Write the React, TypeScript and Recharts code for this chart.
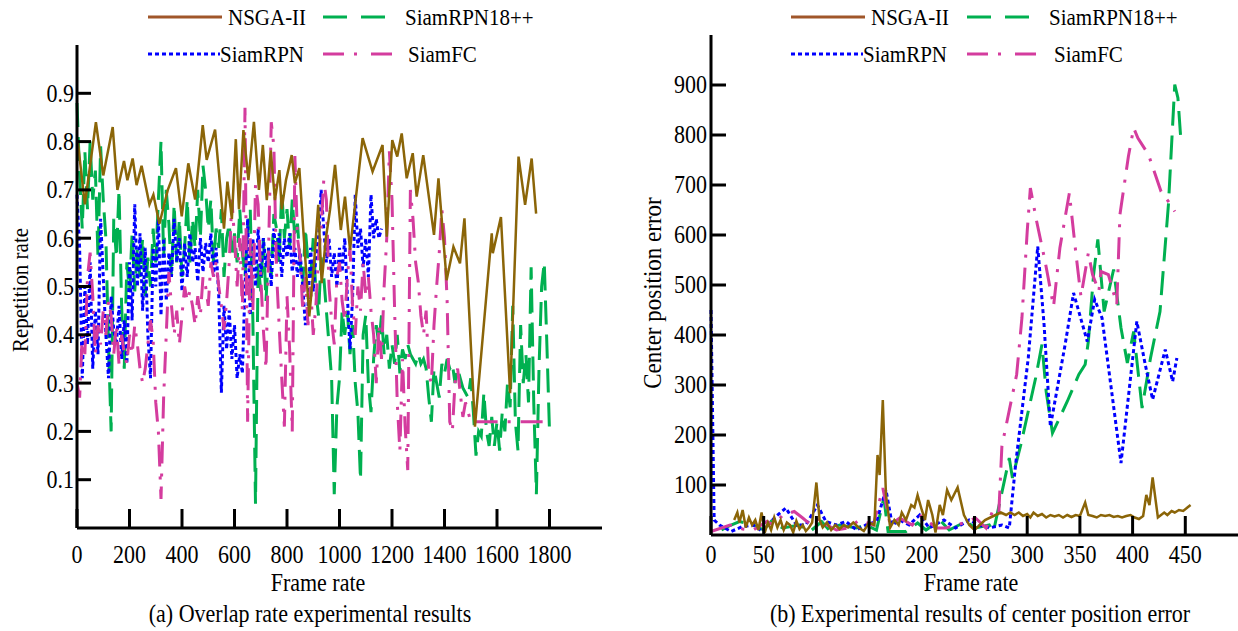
import React from "react";
import { LineChart, Line, XAxis, YAxis } from "recharts";

const FONT = '"Liberation Serif", "Times New Roman", serif';

const C_NSGA = "#8B6508";
const C_NSGA_LEG = "#A0562A";
const C_GREEN = "#00B050";
const C_BLUE = "#0000FF";
const C_PINK = "#D43C9E";

const DASH_GREEN = "24 10";
const DASH_BLUE = "4 3";
const DASH_PINK = "22 10 3 10";

// (a) overlap rate, sampled every 10 frames
const greenLeft = [
  0.88, 0.73, 0.62, 0.78, 0.66, 0.8, 0.68, 0.74, 0.56, 0.79,
  0.68, 0.6, 0.38, 0.2, 0.64, 0.56, 0.7, 0.46, 0.33, 0.55,
  0.49, 0.61, 0.49, 0.58, 0.52, 0.6, 0.48, 0.56, 0.5, 0.62,
  0.55, 0.68, 0.8, 0.56, 0.7, 0.63, 0.52, 0.67, 0.55, 0.64,
  0.52, 0.58, 0.68, 0.55, 0.64, 0.58, 0.7, 0.6, 0.75, 0.7,
  0.62, 0.68, 0.55, 0.62, 0.58, 0.66, 0.52, 0.6, 0.63, 0.56,
  0.61, 0.55, 0.66, 0.57, 0.52, 0.62, 0.66, 0.43, 0.05, 0.55,
  0.49, 0.6, 0.47, 0.58, 0.52, 0.65, 0.62, 0.55, 0.7, 0.6,
  0.66, 0.58, 0.68, 0.6, 0.63, 0.55, 0.5, 0.62, 0.55, 0.52,
  0.6, 0.49, 0.44, 0.56, 0.52, 0.45, 0.38, 0.31, 0.07, 0.25,
  0.31, 0.45, 0.4, 0.45, 0.36, 0.42, 0.3, 0.24, 0.1, 0.4,
  0.44, 0.3, 0.24, 0.35, 0.42, 0.38, 0.44, 0.36, 0.4, 0.33,
  0.38, 0.34, 0.4, 0.32, 0.37, 0.35, 0.38, 0.36, 0.35, 0.34,
  0.36, 0.34, 0.35, 0.33, 0.27, 0.22, 0.33, 0.3, 0.27, 0.34,
  0.32, 0.35, 0.33, 0.34, 0.3, 0.33, 0.31, 0.29, 0.28, 0.27,
  0.31, 0.24, 0.15, 0.2, 0.19, 0.28, 0.2, 0.17, 0.23, 0.17,
  0.22, 0.16, 0.24, 0.2, 0.3, 0.25, 0.46, 0.22, 0.16, 0.42,
  0.3, 0.36, 0.26, 0.54, 0.26, 0.07, 0.33, 0.5, 0.55, 0.38,
  0.2,
];

const pinkLeft = [
  0.3, 0.27, 0.4, 0.36, 0.52, 0.57, 0.48, 0.36, 0.42, 0.38,
  0.45, 0.4, 0.47, 0.44, 0.36, 0.42, 0.34, 0.4, 0.36, 0.34,
  0.4, 0.36, 0.42, 0.38, 0.33, 0.3, 0.33, 0.38, 0.43, 0.39,
  0.26, 0.2, 0.06, 0.27, 0.4, 0.53, 0.46, 0.4, 0.45, 0.38,
  0.44, 0.5, 0.47, 0.49, 0.46, 0.42, 0.48, 0.44, 0.52, 0.5,
  0.46, 0.55, 0.52, 0.55, 0.5, 0.46, 0.41, 0.47, 0.55, 0.68,
  0.6, 0.5, 0.6, 0.45, 0.87, 0.22, 0.6, 0.45, 0.71, 0.67,
  0.52, 0.41, 0.33, 0.58, 0.84, 0.79, 0.53, 0.42, 0.31, 0.21,
  0.48, 0.37, 0.2, 0.77, 0.6, 0.56, 0.45, 0.52, 0.42, 0.5,
  0.4, 0.46, 0.56, 0.62, 0.72, 0.68, 0.5, 0.43, 0.38, 0.52,
  0.55, 0.47, 0.43, 0.52, 0.58, 0.46, 0.4, 0.5, 0.45, 0.55,
  0.48, 0.52, 0.45, 0.4, 0.3, 0.42, 0.35, 0.5, 0.6, 0.78,
  0.68, 0.45, 0.26, 0.16, 0.35, 0.21, 0.12, 0.7, 0.64, 0.55,
  0.51, 0.44, 0.4, 0.45, 0.32, 0.3, 0.42, 0.5, 0.57, 0.66,
  0.6, 0.47, 0.22, 0.2, 0.3, 0.33, 0.28, 0.23, 0.26, 0.24,
  0.22, 0.22, 0.22, 0.22, 0.22, 0.22, 0.22, 0.22, 0.22, 0.22,
  0.22, 0.22, 0.22, 0.22, 0.22, 0.22, 0.22, 0.22, 0.22, 0.22,
  0.22, 0.22, 0.22, 0.22, 0.22, 0.22, 0.22, 0.22, 0.22, 0.22,
  0.22,
];

const blueLeft = [
  0.69, 0.58, 0.31, 0.5, 0.38, 0.55, 0.33, 0.45, 0.36, 0.64,
  0.52, 0.4, 0.31, 0.48, 0.41, 0.38, 0.46, 0.35, 0.43, 0.34,
  0.55, 0.43, 0.67, 0.5, 0.61, 0.45, 0.58, 0.4, 0.31, 0.58,
  0.5, 0.64, 0.44, 0.6, 0.47, 0.57, 0.52, 0.64, 0.55, 0.6,
  0.49, 0.59, 0.52, 0.61, 0.55, 0.58, 0.51, 0.6, 0.53, 0.59,
  0.55, 0.61, 0.52, 0.58, 0.48, 0.28, 0.46, 0.37, 0.45, 0.35,
  0.42, 0.31, 0.36, 0.32, 0.5, 0.64, 0.44, 0.6, 0.5, 0.62,
  0.52, 0.6, 0.54, 0.58, 0.5, 0.62, 0.55, 0.61, 0.52, 0.6,
  0.56, 0.61, 0.53, 0.58, 0.52, 0.57, 0.5, 0.42, 0.46, 0.58,
  0.49, 0.56, 0.6, 0.7, 0.62, 0.55, 0.6, 0.52, 0.57, 0.5,
  0.58, 0.53, 0.6, 0.48, 0.37, 0.48, 0.69, 0.58, 0.62, 0.54,
  0.6, 0.52, 0.69, 0.6, 0.64, 0.6, 0.62,
];

// [frame, rate]
const nsgaLeft = [
  [3, 0.8], [30, 0.67], [72, 0.84], [100, 0.73], [136, 0.83], [154, 0.7],
  [179, 0.76], [192, 0.72], [212, 0.765], [227, 0.71], [246, 0.75], [276, 0.67],
  [291, 0.69], [314, 0.63], [346, 0.7], [377, 0.745], [399, 0.645], [424, 0.755],
  [450, 0.68], [479, 0.834], [494, 0.762], [526, 0.825], [560, 0.62], [573, 0.717],
  [590, 0.64], [605, 0.805], [617, 0.66], [634, 0.824], [653, 0.72], [674, 0.841],
  [693, 0.7], [708, 0.793], [723, 0.679], [738, 0.782], [754, 0.679], [771, 0.741],
  [780, 0.66], [796, 0.72], [818, 0.772], [830, 0.714], [847, 0.745], [862, 0.617],
  [885, 0.438], [903, 0.548], [919, 0.669], [932, 0.507], [948, 0.6], [964, 0.659],
  [983, 0.752], [1005, 0.617], [1021, 0.686], [1040, 0.576], [1088, 0.807], [1126, 0.738],
  [1164, 0.793], [1180, 0.603], [1201, 0.803], [1220, 0.769], [1237, 0.817], [1256, 0.724],
  [1279, 0.776], [1294, 0.686], [1319, 0.772], [1360, 0.607], [1377, 0.724], [1408, 0.513],
  [1434, 0.582], [1459, 0.548], [1476, 0.641], [1516, 0.21], [1580, 0.61], [1584, 0.569],
  [1615, 0.644], [1650, 0.279], [1682, 0.769], [1707, 0.669], [1732, 0.765], [1749, 0.651],
];

// (b) center position error, [frame, error]
const nsgaRight = [
  [22, 30], [25, 45], [27, 25], [30, 50], [33, 15], [36, 35], [39, 20], [42, 30],
  [45, 10], [48, 45], [51, 5], [54, 25], [57, 10], [60, 35], [63, 15], [66, 30],
  [69, 10], [72, 25], [75, 20], [78, 5], [81, 28], [84, 12], [87, 20], [90, 8],
  [93, 15], [96, 25], [100, 105], [103, 30], [106, 15], [110, 25], [114, 10], [118, 20],
  [122, 12], [126, 20], [130, 15], [135, 25], [140, 15], [145, 8], [150, 25], [155, 20],
  [158, 160], [160, 120], [163, 270], [166, 80], [170, 15], [174, 30], [178, 20], [181, 45],
  [185, 30], [190, 60], [193, 55], [196, 80], [200, 50], [203, 30], [206, 70], [210, 40],
  [213, 5], [217, 60], [220, 40], [224, 90], [228, 70], [234, 95], [240, 40], [245, 20],
  [250, 10], [255, 20], [260, 30], [265, 35], [270, 40], [275, 45], [280, 40], [284, 45],
  [288, 40], [292, 45], [296, 38], [300, 42], [303, 35], [306, 45], [310, 38], [314, 42],
  [318, 35], [322, 40], [326, 37], [330, 40], [334, 35], [338, 40], [342, 36], [346, 40],
  [350, 38], [355, 65], [358, 40], [362, 38], [366, 35], [370, 40], [374, 38], [378, 40],
  [382, 36], [386, 38], [390, 35], [394, 38], [398, 40], [402, 35], [406, 32], [410, 38],
  [413, 80], [416, 60], [419, 115], [424, 35], [427, 40], [430, 45], [433, 40], [437, 48],
  [440, 45], [444, 50], [448, 48], [452, 55], [455, 60],
];

const blueRight = [
  [0, 450], [3, 30], [8, 20], [19, 7], [30, 17], [40, 20], [49, 7], [60, 34],
  [71, 54], [81, 20], [90, 20], [101, 60], [109, 27], [119, 20], [128, 27], [138, 10],
  [147, 20], [157, 27], [166, 90], [172, 20], [179, 30], [188, 20], [198, 40], [207, 14],
  [221, 30], [232, 14], [245, 30], [254, 20], [264, 14], [276, 20], [283, 14], [289, 141],
  [301, 354], [310, 577], [316, 421], [322, 217], [336, 381], [344, 484], [357, 387], [364, 471],
  [371, 434], [389, 144], [398, 314], [404, 427], [412, 341], [419, 271], [431, 371], [438, 307],
  [442, 354],
];

const pinkRight = [
  [0, 7], [18, 20], [30, 12], [40, 10], [53, 27], [60, 20], [68, 40], [79, 47],
  [87, 34], [95, 20], [103, 34], [110, 20], [119, 10], [130, 14], [141, 30], [154, 20],
  [163, 94], [170, 20], [179, 34], [191, 20], [198, 40], [214, 14], [223, 14], [232, 20],
  [242, 25], [251, 34], [261, 14], [267, 47], [273, 41], [276, 178], [290, 321], [295, 434],
  [300, 607], [303, 694], [309, 627], [317, 547], [325, 457], [331, 574], [340, 684], [346, 567],
  [351, 477], [358, 564], [362, 521], [368, 487], [370, 527], [377, 521], [385, 461], [388, 641],
  [396, 757], [401, 814], [405, 794], [415, 761], [427, 687], [434, 667], [440, 647],
];

const greenRight = [
  [10, 10], [19, 20], [27, 27], [40, 20], [50, 10], [57, 27], [68, 14], [84, 20],
  [94, 7], [105, 27], [112, 10], [122, 20], [138, 14], [147, 20], [157, 10], [164, 74],
  [168, 7], [185, 7], [196, 24], [204, 10], [217, 30], [226, 10], [242, 27], [251, 14],
  [264, 20], [268, 7], [283, 154], [286, 114], [294, 181], [308, 314], [314, 381], [318, 287],
  [324, 204], [338, 267], [349, 321], [355, 341], [358, 387], [363, 521], [367, 591], [373, 447],
  [382, 531], [389, 414], [395, 344], [401, 407], [409, 254], [417, 354], [426, 447], [434, 661],
  [440, 901], [443, 874], [446, 784],
];

const leftFrameTicks = [0, 200, 400, 600, 800, 1000, 1200, 1400, 1600, 1800];
const leftRateTicks = [0.1, 0.2, 0.3, 0.4, 0.5, 0.6, 0.7, 0.8, 0.9];
const rightFrameTicks = [0, 50, 100, 150, 200, 250, 300, 350, 400, 450];
const rightErrorTicks = [100, 200, 300, 400, 500, 600, 700, 800, 900];

type Pt = { frame: number; v: number };
const onGrid = (vals: number[]): Pt[] => vals.map((v, i) => ({ frame: i * 10, v }));
const fromPairs = (p: number[][]): Pt[] => p.map(([frame, v]) => ({ frame, v }));

const axisLine = { stroke: "#000", strokeWidth: 3 };
const tickLine = { stroke: "#000", strokeWidth: 3 };

// the source figure's text is slightly stretched vertically
const STRETCH = 1.13;

function T(props: {
  x: number;
  y: number;
  size?: number;
  anchor?: "start" | "middle" | "end";
  rotate?: boolean;
  children: React.ReactNode;
}) {
  const { x, y, size = 22, anchor = "start", rotate, children } = props;
  const tr = rotate
    ? `translate(${x},${y}) rotate(-90) scale(1,${STRETCH})`
    : `translate(${x},${y}) scale(1,${STRETCH})`;
  return (
    <g transform={tr}>
      <text
        x={0}
        y={0}
        textAnchor={anchor}
        dominantBaseline="central"
        fontSize={size}
        fontFamily={FONT}
        fill="#000"
      >
        {children}
      </text>
    </g>
  );
}

const XTick = (p: any) => (
  <T x={p.x} y={p.y} anchor="middle" size={22}>
    {p.payload.value}
  </T>
);
const YTickRate = (p: any) => (
  <T x={p.x} y={p.y} anchor="end" size={22}>
    {Number(p.payload.value).toFixed(1)}
  </T>
);
const YTickErr = (p: any) => (
  <T x={p.x} y={p.y} anchor="end" size={22}>
    {p.payload.value}
  </T>
);

export default function App() {
  const lines = (set: { data: Pt[]; color: string; dash?: string; w: number }[]) =>
    set.map((s, i) => (
      <Line
        key={i}
        data={s.data}
        dataKey="v"
        type="linear"
        stroke={s.color}
        strokeWidth={s.w}
        strokeDasharray={s.dash}
        dot={false}
        activeDot={false}
        isAnimationActive={false}
      />
    ));

  const leftSeries = [
    { data: onGrid(greenLeft), color: C_GREEN, dash: DASH_GREEN, w: 3 },
    { data: onGrid(blueLeft), color: C_BLUE, dash: DASH_BLUE, w: 3 },
    { data: onGrid(pinkLeft), color: C_PINK, dash: DASH_PINK, w: 3 },
    { data: fromPairs(nsgaLeft), color: C_NSGA, w: 2.5 },
  ];
  const rightSeries = [
    { data: fromPairs(greenRight), color: C_GREEN, dash: DASH_GREEN, w: 3 },
    { data: fromPairs(blueRight), color: C_BLUE, dash: DASH_BLUE, w: 3 },
    { data: fromPairs(pinkRight), color: C_PINK, dash: DASH_PINK, w: 3 },
    { data: fromPairs(nsgaRight), color: C_NSGA, w: 2.5 },
  ];

  const legend = (x0: number, x1: number, t1: number, y1: number, y2: number) => (
    <g>
      <line x1={x0} x2={x0 + 74} y1={y1} y2={y1} stroke={C_NSGA_LEG} strokeWidth={3} />
      <T x={x0 + 80} y={y1} size={21}>NSGA-II</T>
      <line x1={x1} x2={x1 + 75} y1={y1} y2={y1} stroke={C_GREEN} strokeWidth={3} strokeDasharray="24 14" />
      <T x={x1 + 82} y={y1} size={21}>SiamRPN18++</T>
      <line x1={x0} x2={x0 + 72} y1={y2} y2={y2} stroke={C_BLUE} strokeWidth={3} strokeDasharray={DASH_BLUE} />
      <T x={x0 + 72} y={y2} size={21}>SiamRPN</T>
      <line x1={x1} x2={x1 + 70} y1={y2} y2={y2} stroke={C_PINK} strokeWidth={3} strokeDasharray="21 10 3 14" />
      <T x={t1} y={y2} size={21}>SiamFC</T>
    </g>
  );

  return (
    <div
      style={{
        position: "absolute",
        left: 0,
        top: 0,
        width: 1238,
        height: 631,
        background: "#fff",
        fontFamily: FONT,
        overflow: "hidden",
      }}
    >
      <div style={{ position: "absolute", left: 0, top: 0 }}>
        <LineChart width={620} height={600} margin={{ top: 45, right: 18, bottom: 45, left: 17 }}>
          <XAxis
            type="number"
            dataKey="frame"
            domain={[0, 2000]}
            ticks={leftFrameTicks}
            height={27}
            axisLine={axisLine}
            tickLine={tickLine}
            tickSize={-19}
            tickMargin={46}
            tick={XTick}
            allowDuplicatedCategory={false}
          />
          <YAxis
            type="number"
            domain={[0, 1]}
            ticks={leftRateTicks}
            width={60}
            axisLine={axisLine}
            tickLine={tickLine}
            tickSize={-14}
            tickMargin={17}
            tick={YTickRate}
          />
          {lines(leftSeries)}
        </LineChart>
      </div>
      <div style={{ position: "absolute", left: 620, top: 0 }}>
        <LineChart width={618} height={600} margin={{ top: 35, right: 0, bottom: 45, left: 21 }}>
          <XAxis
            type="number"
            dataKey="frame"
            domain={[0, 500]}
            ticks={rightFrameTicks}
            height={20}
            axisLine={axisLine}
            tickLine={tickLine}
            tickSize={-19}
            tickMargin={39}
            tick={XTick}
            allowDuplicatedCategory={false}
          />
          <YAxis
            type="number"
            domain={[0, 1000]}
            ticks={rightErrorTicks}
            width={70}
            axisLine={axisLine}
            tickLine={tickLine}
            tickSize={-15}
            tickMargin={19}
            tick={YTickErr}
          />
          {lines(rightSeries)}
        </LineChart>
      </div>
      <svg
        width={1238}
        height={631}
        style={{ position: "absolute", left: 0, top: 0, pointerEvents: "none" }}
      >
        {legend(148, 323, 408, 17, 54)}
        <g transform="translate(642,0)">{legend(149, 325, 412, 17, 54)}</g>
        <T x={20} y={290} anchor="middle" size={21} rotate>
          Repetition rate
        </T>
        <T x={652} y={293} anchor="middle" size={23} rotate>
          Center position error
        </T>
        <T x={318} y={583} anchor="middle" size={22}>Frame rate</T>
        <T x={971} y={583} anchor="middle" size={22}>Frame rate</T>
        <T x={310} y={614} anchor="middle" size={22}>
          (a) Overlap rate experimental results
        </T>
        <T x={980} y={614} anchor="middle" size={22}>
          (b) Experimental results of center position error
        </T>
      </svg>
    </div>
  );
}
